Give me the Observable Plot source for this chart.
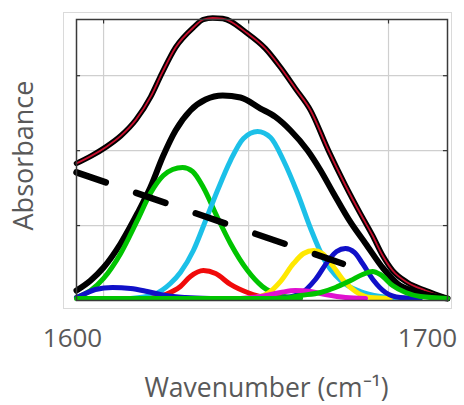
<!DOCTYPE html>
<html><head><meta charset="utf-8">
<script src="https://cdn.jsdelivr.net/npm/d3@7"></script>
<script src="https://cdn.jsdelivr.net/npm/@observablehq/plot@0.6"></script>
<style>body{margin:0;background:#fff;} #chart{width:464px;height:405px;}</style>
</head><body><div id="chart"></div>
<script>
// ---- data (wavenumber cm-1, absorbance a.u.) ----
const xTicks = ["1600", "1700"];
const xTickValues = [1600, 1700];
const gridX = [1607.3, 1646.4, 1684.1];
const gridY = [1, 2, 3];

const measured = [[1600,1.83],[1604,1.93],[1608,2.05],[1612,2.2],[1616,2.41],[1620,2.72],[1623,3.03],[1626.7,3.376],[1631.5,3.643],[1634.2,3.75],[1636.7,3.77],[1639.4,3.763],[1646.1,3.563],[1650.9,3.363],[1655.0,3.11],[1659.0,2.829],[1663.1,2.536],[1667.9,2.002],[1672.5,1.535],[1676.5,1.161],[1679.8,0.867],[1682.5,0.601],[1685.2,0.40],[1689.2,0.24],[1694.1,0.133],[1700,0.027]];
const fitSum = [[1600,0.133],[1603.8,0.267],[1607.3,0.44],[1611.9,0.761],[1616.4,1.161],[1619.9,1.508],[1623.4,1.935],[1626.7,2.269],[1630.7,2.536],[1634.8,2.682],[1639.4,2.736],[1644.2,2.709],[1649.6,2.562],[1653.6,2.45],[1657.7,2.269],[1662.3,2.002],[1665.8,1.735],[1669.3,1.428],[1673.9,1.041],[1677.9,0.761],[1682.7,0.427],[1686.5,0.227],[1691.4,0.12],[1700,0.027]];
const baseline = [[1600,1.71],[1671.8,0.49]];
const band1628 = [[1600,0.04],[1603.8,0.133],[1607.3,0.294],[1611.9,0.627],[1616.4,1.068],[1619.9,1.428],[1623.4,1.668],[1625.9,1.748],[1628.6,1.775],[1631.3,1.722],[1634.2,1.508],[1638.0,1.108],[1641.5,0.761],[1646.1,0.40],[1650.1,0.187],[1655.0,0.067],[1660.4,0.027]];
const band1649 = [[1614.6,0.027],[1620.8,0.08],[1625.3,0.227],[1628.0,0.374],[1631.5,0.667],[1634.8,1.068],[1638.0,1.468],[1641.5,1.868],[1645.0,2.162],[1648.8,2.255],[1652.3,2.175],[1655.8,1.868],[1659.6,1.428],[1663.1,0.961],[1666.6,0.561],[1671.2,0.267],[1676.5,0.12],[1681.9,0.053],[1687.3,0.027]];
const band1634 = [[1619.9,0.027],[1624.0,0.08],[1628.0,0.187],[1630.7,0.32],[1634.2,0.40],[1637.5,0.36],[1641.5,0.214],[1646.1,0.107],[1650.9,0.04],[1656.3,0.027]];
const band1610 = [[1600,0.04],[1602.4,0.093],[1605.1,0.147],[1609.7,0.173],[1614.6,0.16],[1619.1,0.12],[1624.0,0.067],[1629.4,0.04],[1636.1,0.027]];
const band1664 = [[1646.9,0.027],[1651.5,0.093],[1655.0,0.254],[1658.5,0.494],[1661.2,0.627],[1663.9,0.667],[1666.3,0.627],[1669.0,0.467],[1672.0,0.267],[1675.2,0.12],[1679.2,0.04],[1684.6,0.027]];
const band1672 = [[1655.0,0.027],[1660.4,0.093],[1664.4,0.28],[1667.9,0.534],[1670.1,0.654],[1672.5,0.694],[1674.9,0.641],[1677.1,0.494],[1680.1,0.267],[1683.3,0.107],[1687.3,0.04],[1692.7,0.027]];
const band1659 = [[1644.2,0.027],[1649.6,0.053],[1655.0,0.107],[1659.0,0.133],[1663.1,0.12],[1667.1,0.08],[1672.5,0.04],[1677.9,0.027]];
const band1680 = [[1600,0.027],[1630,0.027],[1655.0,0.027],[1660.4,0.067],[1665.8,0.107],[1669.8,0.173],[1673.9,0.267],[1677.1,0.347],[1679.8,0.387],[1681.9,0.347],[1685.2,0.20],[1688.7,0.107],[1692.7,0.053],[1700,0.027]];

const P = {x: d => d[0], y: d => d[1], curve: "monotone-x"};
const comp = (data, stroke, w = 5) => Plot.line(data, {...P, stroke, strokeWidth: w});
const tickLabel = (i, dx) => Plot.text([i], {x: j => xTickValues[j], text: j => xTicks[j], frameAnchor: "bottom", lineAnchor: "bottom", dy: 46, dx, fontSize: 26, fill: "#595959"});

const plot = Plot.plot({
  width: 464, height: 405,
  marginLeft: 76, marginRight: 17, marginTop: 19, marginBottom: 105,
  x: {domain: [1600, 1700], axis: null},
  y: {domain: [0, 3.75], axis: null},
  style: {background: "#fff", fontFamily: "'Open Sans', sans-serif"},
  marks: [
    Plot.ruleX(gridX, {stroke: "#cfcfcf", strokeWidth: 1.2}),
    Plot.ruleY(gridY, {stroke: "#cfcfcf", strokeWidth: 1.2}),
    Plot.ruleY(gridY, {x1: 1600, x2: 1601.1, stroke: "#333", strokeWidth: 1.2}),
    Plot.ruleY(gridY, {x1: 1698.9, x2: 1700, stroke: "#333", strokeWidth: 1.2}),
    Plot.ruleX(gridX, {y1: 3.69, y2: 3.75, stroke: "#333", strokeWidth: 1.2}),
    Plot.line(measured, {...P, stroke: "#000", strokeWidth: 5.5}),
    Plot.line(measured, {...P, stroke: "#c8102e", strokeWidth: 1.8}),
    Plot.line(fitSum, {...P, stroke: "#000", strokeWidth: 6}),
    comp(band1628, "#00c400"),
    comp(band1649, "#1cc0e8"),
    comp(band1634, "#f00a0a"),
    comp(band1610, "#1010c8"),
    comp(band1664, "#ffe800"),
    comp(band1672, "#1010c8"),
    comp(band1659, "#e010d0"),
    comp(band1680, "#00c400"),
    Plot.line(baseline, {x: d => d[0], y: d => d[1], stroke: "#000", strokeWidth: 6.5, strokeDasharray: "31,32"}),
    Plot.frame({stroke: "#3a3a3a", strokeWidth: 1.5}),
    tickLabel(0, -4),
    tickLabel(1, -20),
    Plot.text(["Wavenumber (cm⁻¹)"], {frameAnchor: "bottom", lineAnchor: "bottom", dy: 96, dx: 4.5, fontSize: 26.5, fill: "#595959"}),
    Plot.text(["Absorbance"], {frameAnchor: "left", textAnchor: "middle", rotate: -90, dx: -52, dy: -4.5, fontSize: 27, fill: "#595959"})
  ]
});
d3.select(plot).insert("rect", ":first-child")
  .attr("x", 63.5).attr("y", 12.5).attr("width", 388).attr("height", 296)
  .attr("fill", "none").attr("stroke", "#dadada");
document.getElementById("chart").append(plot);
</script></body></html>
